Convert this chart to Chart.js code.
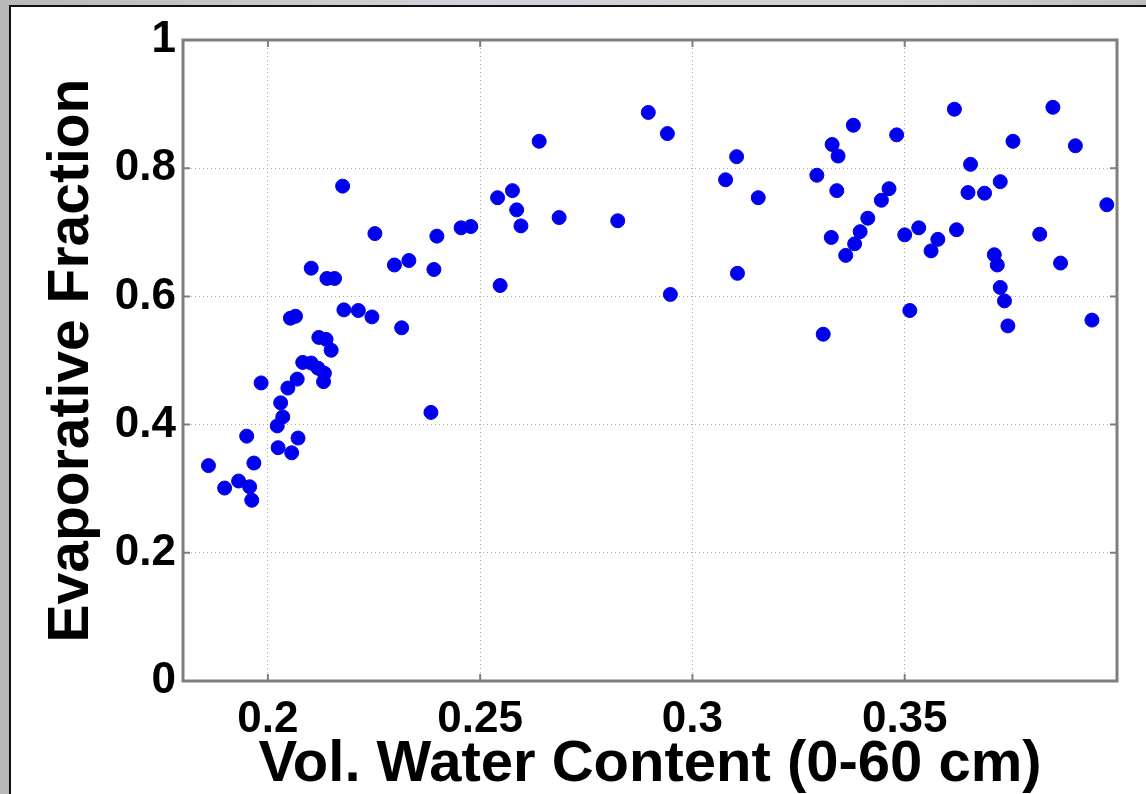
<!DOCTYPE html>
<html>
<head>
<meta charset="utf-8">
<script src="https://cdn.jsdelivr.net/npm/chart.js@4"></script>
<style>
  html, body { margin: 0; padding: 0; }
  body { width: 1146px; height: 794px; overflow: hidden; position: relative;
         background: linear-gradient(90deg, #b9b9bb 0%, #d2d2d8 40%, #cfcfd4 80%, #bdbdc0 100%); }
  #panel { position: absolute; left: 9px; top: 5px; width: 1200px; height: 900px;
           background: #fff; border: 2px solid #111; }
  #chart { position: absolute; left: 0; top: 0; }
</style>
</head>
<body>
<div id="panel"></div>
<canvas id="chart" width="1146" height="794"></canvas>
<script>
// Soil water content (x) vs evaporative fraction (y)
const waterContent = [
  0.1860, 0.1898, 0.1931, 0.1950, 0.1957, 0.1962, 0.1967, 0.1984, 0.2022, 0.2030,
  0.2035, 0.2024, 0.2047, 0.2056, 0.2069, 0.2071, 0.2053, 0.2065, 0.2082, 0.2102,
  0.2118, 0.2133, 0.2131, 0.2120, 0.2137, 0.2149, 0.2102, 0.2139, 0.2157, 0.2176,
  0.2179, 0.2213, 0.2245, 0.2252, 0.2298, 0.2332, 0.2315, 0.2384, 0.2391, 0.2398,
  0.2455, 0.2478, 0.2541, 0.2547, 0.2576, 0.2586, 0.2596, 0.2639, 0.2686, 0.2824,
  0.2896, 0.2941, 0.2948, 0.3078, 0.3104, 0.3106, 0.3155, 0.3293, 0.3308, 0.3327,
  0.3329, 0.3340, 0.3343, 0.3361, 0.3379, 0.3382, 0.3395, 0.3413, 0.3445, 0.3463,
  0.3481, 0.3500, 0.3512, 0.3533, 0.3562, 0.3578, 0.3617, 0.3622, 0.3649, 0.3655,
  0.3688, 0.3711, 0.3718, 0.3725, 0.3725, 0.3735, 0.3743, 0.3755, 0.3818, 0.3849,
  0.3867, 0.3902, 0.3941, 0.3976
];
const evapFraction = [
  0.336, 0.301, 0.312, 0.382, 0.303, 0.282, 0.340, 0.465, 0.398, 0.434,
  0.412, 0.364, 0.457, 0.356, 0.471, 0.379, 0.566, 0.569, 0.497, 0.496,
  0.488, 0.480, 0.467, 0.536, 0.533, 0.516, 0.644, 0.628, 0.628, 0.772,
  0.579, 0.578, 0.568, 0.698, 0.649, 0.656, 0.551, 0.419, 0.642, 0.694,
  0.707, 0.709, 0.754, 0.617, 0.765, 0.735, 0.710, 0.842, 0.723, 0.718,
  0.887, 0.854, 0.603, 0.782, 0.818, 0.636, 0.754, 0.789, 0.541, 0.692,
  0.837, 0.765, 0.819, 0.664, 0.867, 0.682, 0.701, 0.722, 0.750, 0.768,
  0.852, 0.696, 0.578, 0.707, 0.671, 0.689, 0.892, 0.704, 0.762, 0.806,
  0.761, 0.665, 0.649, 0.779, 0.614, 0.593, 0.554, 0.842, 0.697, 0.895,
  0.652, 0.835, 0.563, 0.743
];
const xTicks = [0.2, 0.25, 0.3, 0.35];
const yTicks = [0, 0.2, 0.4, 0.6, 0.8, 1];

const FONT = '"Liberation Sans", Arial, Helvetica, sans-serif';

// MATLAB style box with inward ticks
const framePlugin = {
  id: 'frame',
  beforeDatasetsDraw(chart) {
    const { ctx, chartArea: a, scales: { x, y } } = chart;
    ctx.save();
    ctx.strokeStyle = '#7f7f7f';
    ctx.lineWidth = 2;
    ctx.beginPath();
    xTicks.forEach(v => {
      const px = x.getPixelForValue(v);
      ctx.moveTo(px, a.bottom); ctx.lineTo(px, a.bottom - 7);
      ctx.moveTo(px, a.top); ctx.lineTo(px, a.top + 7);
    });
    yTicks.forEach(v => {
      const py = y.getPixelForValue(v);
      ctx.moveTo(a.left, py); ctx.lineTo(a.left + 7, py);
      ctx.moveTo(a.right, py); ctx.lineTo(a.right - 7, py);
    });
    ctx.stroke();
    ctx.lineWidth = 3;
    ctx.strokeRect(a.left, a.top, a.right - a.left, a.bottom - a.top);
    ctx.restore();
  }
};

const points = waterContent.map((x, i) => ({ x, y: evapFraction[i] }));

new Chart(document.getElementById('chart'), {
  type: 'scatter',
  data: {
    datasets: [{
      data: points,
      backgroundColor: '#0000ee',
      borderColor: '#0000ee',
      pointRadius: 7,
      pointHoverRadius: 7,
      borderWidth: 1
    }]
  },
  options: {
    responsive: false,
    animation: false,
    events: [],
    layout: { padding: { left: 0, top: 40, right: 29, bottom: 0 } },
    plugins: { legend: { display: false }, tooltip: { enabled: false } },
    scales: {
      x: {
        type: 'linear',
        min: 0.18,
        max: 0.4,
        afterBuildTicks: s => { s.ticks = xTicks.map(v => ({ value: v })); },
        afterFit: s => { s.height = 113; },
        grid: { color: '#a8a8a8', lineWidth: 1, drawTicks: false },
        border: { display: false, dash: [1, 3] },
        ticks: {
          padding: 12,
          color: '#000',
          font: { family: FONT, size: 44, weight: 'bold' },
          callback: v => String(v)
        },
        title: {
          display: true,
          text: 'Vol. Water Content (0-60 cm)',
          color: '#000',
          padding: { top: 0, bottom: 0 },
          font: { family: FONT, size: 58, weight: 'bold', lineHeight: 1.0 }
        }
      },
      y: {
        type: 'linear',
        min: 0,
        max: 1,
        afterBuildTicks: s => { s.ticks = yTicks.map(v => ({ value: v })); },
        afterFit: s => { s.width = 183; },
        grid: { color: '#a8a8a8', lineWidth: 1, drawTicks: false },
        border: { display: false, dash: [1, 3] },
        ticks: {
          padding: 7,
          color: '#000',
          font: { family: FONT, size: 44, weight: 'bold' },
          callback: v => String(v)
        },
        title: {
          display: true,
          text: 'Evaporative Fraction',
          color: '#000',
          padding: { top: 38, bottom: 0 },
          font: { family: FONT, size: 57, weight: 'bold' }
        }
      }
    }
  },
  plugins: [framePlugin]
});
</script>
</body>
</html>
